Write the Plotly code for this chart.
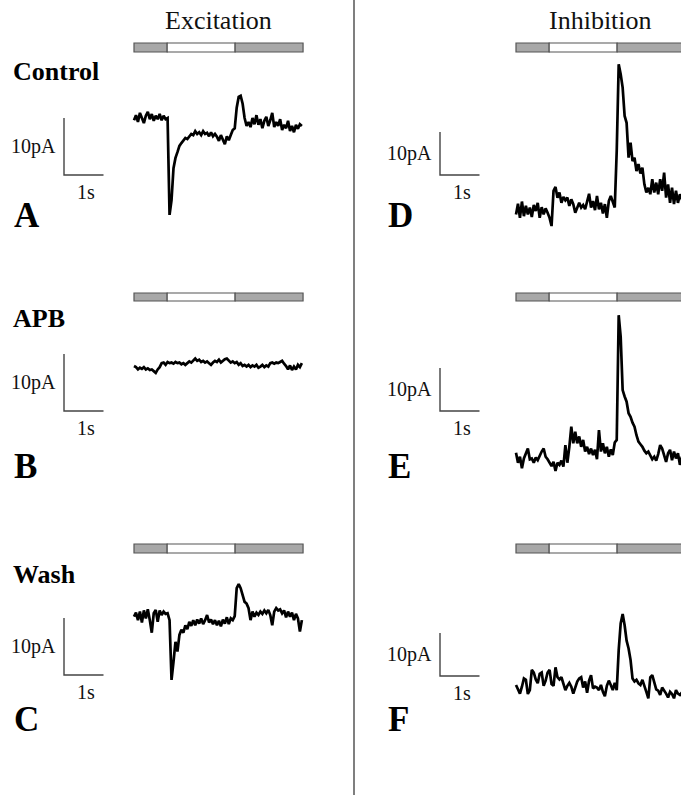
import numpy as np
import plotly.graph_objects as go

# ---------------- data ----------------
DT = 0.05                      # seconds per sample
STIM_DURATIONS = [0.84, 1.72, 1.72]   # s: pre, light, post
STIM_COLORS = ["#a8a8a8", "#ffffff", "#a8a8a8"]
SCALE_PA = 10
SCALE_S = 1
SCALE_LABELS = ["10pA", "1s"]
COLUMN_TITLES = ["Excitation", "Inhibition"]
ROW_LABELS = ["Control", "APB", "Wash"]
PANEL_LETTERS = ["A", "B", "C", "D", "E", "F"]

# currents in pA relative to each trace's starting baseline
trace_A = [-0.4, 0.5, -0.7, 0.9, 0, -0.9, 0.4, 1.1, -0.2, 0.7, -0.5, 0.4, -0.2, 0.7, -0.4, 0.4, -0.2, 0,
           -17.0, -14.4, -8.8, -7.0, -6.0, -4.9, -4.4, -4.0, -3.5, -3.7, -3.2, -2.8, -3.0, -2.3, -2.8, -2.5,
           -3.0, -2.3, -2.8, -2.6, -3.2, -2.5, -3.2, -2.8, -3.3, -4.0, -3.0, -3.7, -4.6, -3.2, -3.9, -3.0,
           -2.1, -1.8, 1.8, 3.7, 3.9, 2.5, 0, -1.4, -0.7, -1.6, 0, -1.1, 0.5, -1.2, -0.2, -1.8, -0.5, 0.2,
           -1.4, -0.4, 0.9, -1.6, -0.7, -1.4, -0.2, -2.1, -1.2, -1.8, -0.5, -2.3, -1.4, -2.5, -1.2, -1.9,
           -1.1, -1.4]
trace_B = [0, -0.2, -0.6, -0.3, -0.5, -0.2, -0.6, -0.4, -0.7, -0.6, -0.9, -1.2, -0.6, -0.2, 0.5, 0.6,
           0.2, 0.7, 0.5, 0.6, 0.4, 0.7, 0.5, 0.6, 0.3, 0.5, 0.2, 0.5, 0.8, 0.6, 0.9, 1.3, 0.9, 1.1, 0.7,
           0.9, 0.6, 0.8, 0.5, 0.2, 0.6, 0.9, 0.7, 1.1, 0.6, 0.9, 1.2, 1.3, 0.9, 0.6, 0.8, 0.5, 0.7, 0.2,
           0.5, 0, 0.2, -0.1, 0.2, -0.2, 0.1, -0.1, 0.2, -0.3, -0.1, 0.2, -0.2, 0.1, -0.1, 0.5, 0.6, 0.4,
           0.6, 0.5, 0.7, 0.9, 0.4, 0, -0.6, 0.1, -0.7, -0.1, -0.6, 0.2, -0.2, 0.5]
trace_C = [-0.3, 0.4, -0.9, 0.6, -1.3, 0.8, -0.6, 1.0, -0.9, -3.1, 0.3, 0.9, -1.2, 0.8, 0, 0.6, 0.2,
           0.3, -0.9, -11.4, -8.2, -4.7, -6.4, -3.5, -2.6, -3.1, -1.8, -2.5, -1.2, -1.9, -0.9, -1.8, -0.8,
           -1.5, -0.6, -1.6, -0.9, 0, -1.3, -0.8, -1.6, -0.9, -1.8, -1.0, -2.0, -0.8, -1.5, -0.4, -1.6,
           -0.6, -0.9, -0.2, 4.7, 5.4, 4.7, 3.5, 2.3, 2.0, 1.2, -0.9, 0.6, -0.3, 0.4, 0, 0.6, 0.2, 0.8,
           0.3, 0.9, 0, -1.8, 0.6, 1.2, 0.8, 1.0, 0.3, 0.8, -0.4, 0.6, -0.3, 0.4, -0.9, 0.2, -0.6, -2.9,
           -0.9]
trace_D = [-0.8, 1.7, -1.6, 2.2, -1.2, 1.2, -0.8, 0.8, -1.4, 1.4, 0, 1.9, -1.6, 0.9, -0.8, 0.6, -0.4,
           -1.6, -3.5, 4.7, 5.6, 3.1, 4.3, 1.9, 3.3, 2.5, 3.1, 1.2, 2.7, 1.6, -0.4, 0.8, 1.9, 0.8, 1.4,
           0.4, 2.3, 4.0, 0.8, 2.3, 0.2, 3.5, 0.4, 1.9, -0.6, 1.6, -1.6, 2.3, 3.5, 2.3, 0.8, 14.0, 34.1,
           31.8, 28.7, 22.1, 20.5, 12.4, 15.9, 11.6, 12.4, 9.3, 10.9, 8.7, 10.1, 6.2, 4.3, 5.4, 3.9, 7.4,
           4.3, 6.6, 3.9, 7.4, 4.7, 8.9, 3.1, 6.2, 1.9, 5.4, 1.6, 4.7, 1.9, 3.9, 2.7, 3.1]
trace_E = [0.9, -1.4, 0, -2.7, -0.4, 0.8, 1.9, -0.6, -0.4, -1.4, -0.2, -0.8, 0.4, 1.2, 1.9, 0, -0.6,
           -1.6, -2.2, -1.2, -3.3, -1.4, -1.9, -0.9, -2.3, 2.7, -1.4, 2.3, 7.0, 3.1, 5.8, 3.1, 4.7, 2.3,
           3.9, 1.2, 2.3, 0.6, 1.9, 0.4, 1.6, -0.6, 6.2, 1.2, 3.1, 0.8, 2.3, 0, 1.7, 0.4, 3.3, 3.9, 32.9,
           27.9, 15.5, 14.0, 12.8, 10.1, 9.3, 7.9, 7.0, 5.0, 3.5, 2.9, 2.3, 1.4, 0.8, 1.2, 0.2, -0.6, 0,
           -0.9, 0.6, 2.7, 1.9, 0.6, -1.2, 0.8, 1.6, -0.8, 1.2, -0.4, 0.8, -1.9, 0, -0.8]
trace_F = [0.4, -0.8, -1.6, 0, 1.9, 1.6, -1.7, -0.8, 3.9, 3.3, 1.7, 0.8, 3.0, 3.3, 0.2, 1.4, 3.3, 3.9,
           0.6, 0.2, 4.5, 2.2, 1.7, 2.2, 0.9, -0.8, 0.2, 0.9, 0, -1.6, -0.2, 1.2, 1.9, 2.2, -0.2, 1.2,
           -1.4, 1.4, 2.7, -0.4, 0, -0.2, -0.8, 0.4, -1.2, -2.2, 0.2, 1.4, 0.4, -0.8, 0.9, -0.8, 8.5,
           14.7, 16.9, 14.3, 10.7, 8.9, 6.2, 1.9, 1.2, 1.6, 0.8, 0.4, 1.6, 0.4, -1.2, -2.7, 2.2, 2.7, 0.9,
           -0.6, -0.9, -1.9, -0.2, -0.8, -1.6, -2.5, -1.2, -1.7, -2.7, -0.8, -1.6, -1.9, -1.2, -0.8]
TRACES = [trace_A, trace_B, trace_C, trace_D, trace_E, trace_F]

# ---------------- layout (pixel geometry) ----------------
W, H = 681, 795
PX_PER_S = 39.5
COL_ORIGIN_PX = [134, 516]            # x pixel of t = 0
COL_DOMAIN_PX = [(0, 340), (356, 681)]
COL_PX_PER_PA = [5.7, 4.3]
ROW_DOMAIN_PX = [(0, 265), (265, 520), (520, 795)]
BASE_PX = [118, 366, 615, 211, 456.7, 686.7]   # y pixel of 0 pA
SB_BOTTOM_PX = [175, 411, 675, 175, 411, 676]
SB_LEFT_PX = [64, 440]
BAR_PX = [(43, 52), (293, 301), (544, 553), (43, 52), (293, 301), (544, 553)]
FONT = "Liberation Serif, Times New Roman, serif"


def px_x(px):
    return px / W


def px_y(py):
    return 1 - py / H


fig = go.Figure()
layout = dict(width=W, height=H, margin=dict(l=0, r=0, t=0, b=0), autosize=False,
              paper_bgcolor="white", plot_bgcolor="rgba(0,0,0,0)", showlegend=False)
shapes = []
annotations = []

for k in range(6):
    n = k + 1
    col, row = k // 3, k % 3
    xa = "xaxis" if n == 1 else f"xaxis{n}"
    ya = "yaxis" if n == 1 else f"yaxis{n}"
    xr = "x" if n == 1 else f"x{n}"
    yr = "y" if n == 1 else f"y{n}"
    s = COL_PX_PER_PA[col]
    base = BASE_PX[k]
    d0, d1 = COL_DOMAIN_PX[col]
    r0, r1 = ROW_DOMAIN_PX[row]
    org = COL_ORIGIN_PX[col]
    layout[xa] = dict(domain=[px_x(d0), px_x(d1)],
                      range=[(d0 - org) / PX_PER_S, (d1 - org) / PX_PER_S],
                      visible=False, fixedrange=True, anchor=yr)
    layout[ya] = dict(domain=[px_y(r1), px_y(r0)],
                      range=[(base - r1) / s, (base - r0) / s],
                      visible=False, fixedrange=True, anchor=xr)

    vals = TRACES[k]
    t = np.arange(len(vals)) * DT
    fig.add_trace(go.Scatter(x=t, y=vals, mode="lines", xaxis=xr, yaxis=yr,
                             line=dict(color="black", width=2.7), hoverinfo="skip"))

    # scale bar
    t0 = (SB_LEFT_PX[col] - org) / PX_PER_S
    v0 = (base - SB_BOTTOM_PX[k]) / s
    fig.add_trace(go.Scatter(x=[t0, t0, t0 + SCALE_S], y=[v0 + SCALE_PA, v0, v0], mode="lines",
                             xaxis=xr, yaxis=yr, line=dict(color="#444", width=1.4),
                             hoverinfo="skip"))

    # stimulus bar
    b0, b1 = BAR_PX[k]
    start = 0.0
    for dur, colr in zip(STIM_DURATIONS, STIM_COLORS):
        shapes.append(dict(type="rect", xref=xr, yref="paper", x0=start, x1=start + dur,
                           y0=px_y(b1), y1=px_y(b0), fillcolor=colr,
                           line=dict(color="#555", width=1.2), layer="above"))
        start += dur

    # scale labels
    sb_top_px = SB_BOTTOM_PX[k] - SCALE_PA * s
    annotations.append(dict(text=SCALE_LABELS[0], xref="paper", yref="paper",
                            x=px_x(SB_LEFT_PX[col] - 6), y=px_y((sb_top_px + SB_BOTTOM_PX[k]) / 2),
                            xanchor="right", yanchor="middle", showarrow=False,
                            font=dict(family=FONT, size=20, color="#111")))
    annotations.append(dict(text=SCALE_LABELS[1], xref="paper", yref="paper",
                            x=px_x(SB_LEFT_PX[col] + 22), y=px_y(SB_BOTTOM_PX[k] + 17),
                            xanchor="center", yanchor="middle", showarrow=False,
                            font=dict(family=FONT, size=20, color="#111")))

    # panel letter
    annotations.append(dict(text=f"<b>{PANEL_LETTERS[k]}</b>", xref="paper", yref="paper",
                            x=px_x(12 if col == 0 else 386), y=px_y([216, 466, 719][row]),
                            xanchor="left", yanchor="middle", showarrow=False,
                            font=dict(family=FONT, size=35, color="black")))

# column titles
for col, title in enumerate(COLUMN_TITLES):
    annotations.append(dict(text=title, xref="paper", yref="paper",
                            x=px_x(COL_ORIGIN_PX[col] + sum(STIM_DURATIONS) * PX_PER_S / 2),
                            y=px_y(21), xanchor="center", yanchor="middle", showarrow=False,
                            font=dict(family=FONT, size=26, color="#111")))

# row labels
for row, lab in enumerate(ROW_LABELS):
    annotations.append(dict(text=f"<b>{lab}</b>", xref="paper", yref="paper",
                            x=px_x(11), y=px_y([72, 318, 574][row]), xanchor="left",
                            yanchor="middle", showarrow=False,
                            font=dict(family=FONT, size=26, color="black")))

# divider line
shapes.append(dict(type="line", xref="paper", yref="paper", x0=px_x(354), x1=px_x(354),
                   y0=0, y1=1, line=dict(color="#555", width=1.5)))

layout["shapes"] = shapes
layout["annotations"] = annotations
fig.update_layout(**layout)
fig.write_html("out.html")
